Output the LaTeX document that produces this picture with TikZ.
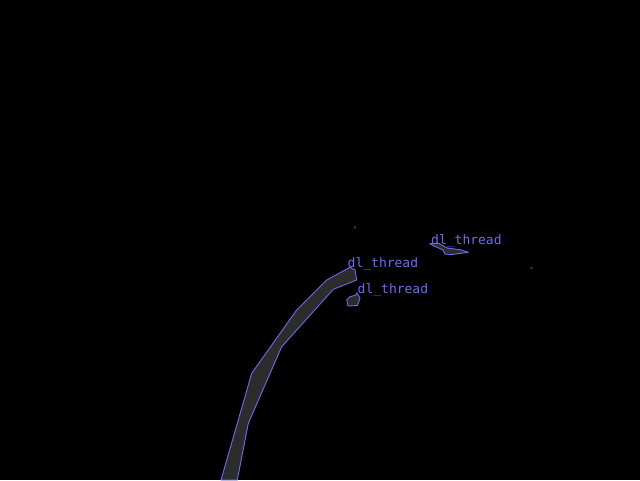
\documentclass[tikz,border=0pt]{standalone}
\usepackage{fontspec}
\newfontfamily\labelfont{DejaVu Sans Mono}
\definecolor{edgeblue}{RGB}{108,108,238}
\definecolor{maskgray}{RGB}{44,44,44}
\tikzset{
  mask/.style={fill=maskgray, draw=edgeblue, line width=0.9pt, line join=round},
  lbl/.style={text=edgeblue, inner sep=0pt, anchor=base west, font=\labelfont\fontsize{13}{13}\selectfont},
  speck/.style={fill=maskgray, draw=none}
}
\begin{document}
\begin{tikzpicture}[x=1pt,y=-1pt]
\fill[black] (0,0) rectangle (640,480);
\useasboundingbox (0,0) rectangle (640,480);
% large thread mask
\draw[mask] (221,480) -- (251.7,373.3) -- (296.7,310) -- (326.7,280) -- (350,267.3)
  -- (355,270) -- (356.7,280) -- (333.3,289.3) -- (281.7,346.7) -- (248.3,423.3)
  -- (237.3,480) -- cycle;
% small drop mask
\draw[mask] (356.7,292.7) -- (360,298.3) -- (357.3,305.5) -- (348,306) -- (346.7,300)
  -- (350,296.7) -- (356,295) -- cycle;
% upper right mask
\draw[mask] (430,243.5) -- (439,243.5) -- (447,248) -- (460,249.7) -- (468.3,252.3)
  -- (450,254.7) -- (445,254) -- (443,250) -- (431,244.5) -- cycle;
% specks
\fill[speck] (354,226) rectangle (356,228.5);
\fill[speck] (530,267) rectangle (532.5,268.5);
% labels
\node[lbl] (t1) at (347.5,267) {dl\_thread};
\node[lbl] (t2) at (357.5,293) {dl\_thread};
\node[lbl] (t3) at (431,244) {dl\_thread};
\end{tikzpicture}
\end{document}
